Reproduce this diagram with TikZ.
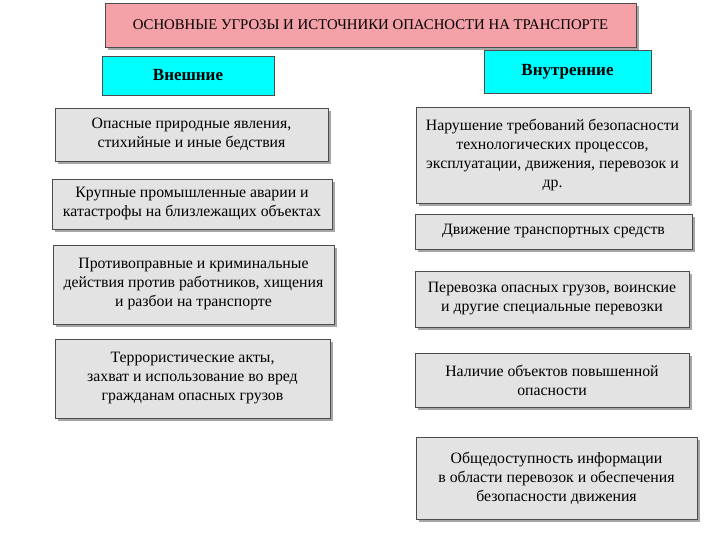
\documentclass[tikz,border=0pt]{standalone}
\usepackage{fontspec}
\setmainfont{Liberation Serif}
\definecolor{pinkf}{HTML}{F4A1A8}
\definecolor{cyanf}{HTML}{00FFFF}
\definecolor{grayf}{HTML}{E3E3E3}
\begin{document}
\begin{tikzpicture}[x=1pt,y=-1pt,
 bx/.style={draw=black!70,line width=0.6pt,inner sep=0pt,align=center,font=\fontsize{15.8}{19}\selectfont},
 gb/.style={bx,fill=grayf}]
\useasboundingbox[fill=white] (0,0) rectangle (720,540);
\newcommand\bxat[6]{\fill[black!35] (#1+3,#2+3) rectangle (#3+3,#4+3);
 \node[#5,minimum width=#3-#1,minimum height=#4-#2] at ({(#1+#3)/2},{(#2+#4)/2}) {#6};}
\fill[black!35] (108,6) rectangle (639,50);
\node[bx,fill=pinkf,minimum width=531,minimum height=44,font=\fontsize{14.8}{17}\selectfont] (t) at (370.5,25) {ОСНОВНЫЕ УГРОЗЫ И ИСТОЧНИКИ ОПАСНОСТИ НА ТРАНСПОРТЕ};
\node[bx,fill=cyanf,minimum width=172,minimum height=39,font=\fontsize{17}{20}\selectfont\bfseries] (e) at (188,75.5) {Внешние};
\node[bx,fill=cyanf,minimum width=167,minimum height=43,font=\fontsize{17}{20}\selectfont\bfseries] (i) at (567.5,71.5) {Внутренние};
\bxat{55}{108}{328}{161}{gb}{Опасные природные явления,\\стихийные и иные бедствия}
\bxat{52}{179}{332}{229}{gb}{Крупные промышленные аварии и\\катастрофы на близлежащих объектах}
\bxat{53}{245}{334}{324}{gb}{Противоправные и криминальные\\действия против работников, хищения\\и разбои на транспорте}
\bxat{55}{339}{330}{418}{gb}{Террористические акты,\\захват и использование во вред\\гражданам опасных грузов}
\bxat{416}{107}{689}{203}{gb}{Нарушение требований безопасности\\технологических процессов,\\эксплуатации, движения, перевозок и\\др.}
\bxat{415}{214}{692}{249}{gb}{Движение транспортных средств}
\bxat{415}{271}{689}{327}{gb}{Перевозка опасных грузов, воинские\\и другие специальные перевозки}
\bxat{415}{353}{689}{407}{gb}{Наличие объектов повышенной\\опасности}
\bxat{416}{437}{697}{519}{gb}{Общедоступность информации\\в области перевозок и обеспечения\\безопасности движения}
\end{tikzpicture}
\end{document}
